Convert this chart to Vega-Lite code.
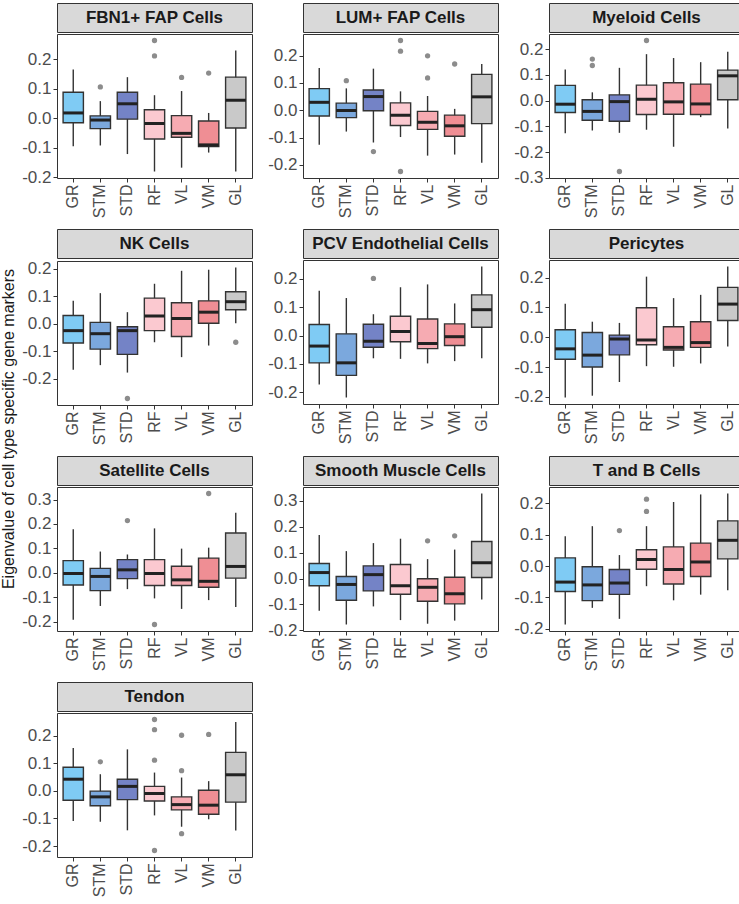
{
"$schema": "https://vega.github.io/schema/vega-lite/v6.json",
"padding": {"left": 0, "top": 2, "right": 0, "bottom": 0},
"background": "white",
"datasets": {
"boxes": [
{"p":"FBN1+ FAP Cells","g":"GR","lo":-0.095,"q1":-0.015,"med":0.018,"q3":0.088,"hi":0.165},
{"p":"FBN1+ FAP Cells","g":"STM","lo":-0.092,"q1":-0.035,"med":-0.006,"q3":0.008,"hi":0.058},
{"p":"FBN1+ FAP Cells","g":"STD","lo":-0.121,"q1":-0.003,"med":0.049,"q3":0.088,"hi":0.139},
{"p":"FBN1+ FAP Cells","g":"RF","lo":-0.180,"q1":-0.070,"med":-0.018,"q3":0.029,"hi":0.078},
{"p":"FBN1+ FAP Cells","g":"VL","lo":-0.167,"q1":-0.064,"med":-0.051,"q3":0.009,"hi":0.092},
{"p":"FBN1+ FAP Cells","g":"VM","lo":-0.116,"q1":-0.096,"med":-0.090,"q3":-0.009,"hi":0.018},
{"p":"FBN1+ FAP Cells","g":"GL","lo":-0.180,"q1":-0.033,"med":0.061,"q3":0.139,"hi":0.229},
{"p":"LUM+ FAP Cells","g":"GR","lo":-0.126,"q1":-0.021,"med":0.029,"q3":0.079,"hi":0.154},
{"p":"LUM+ FAP Cells","g":"STM","lo":-0.078,"q1":-0.027,"med":-0.001,"q3":0.026,"hi":0.080},
{"p":"LUM+ FAP Cells","g":"STD","lo":-0.118,"q1":-0.002,"med":0.050,"q3":0.074,"hi":0.152},
{"p":"LUM+ FAP Cells","g":"RF","lo":-0.098,"q1":-0.056,"med":-0.018,"q3":0.027,"hi":0.069},
{"p":"LUM+ FAP Cells","g":"VL","lo":-0.166,"q1":-0.070,"med":-0.044,"q3":-0.004,"hi":0.052},
{"p":"LUM+ FAP Cells","g":"VM","lo":-0.162,"q1":-0.095,"med":-0.057,"q3":-0.018,"hi":0.005},
{"p":"LUM+ FAP Cells","g":"GL","lo":-0.192,"q1":-0.049,"med":0.049,"q3":0.131,"hi":0.169},
{"p":"Myeloid Cells","g":"GR","lo":-0.127,"q1":-0.046,"med":-0.014,"q3":0.059,"hi":0.121},
{"p":"Myeloid Cells","g":"STM","lo":-0.116,"q1":-0.076,"med":-0.042,"q3":0.003,"hi":0.032},
{"p":"Myeloid Cells","g":"STD","lo":-0.125,"q1":-0.080,"med":-0.004,"q3":0.022,"hi":0.127},
{"p":"Myeloid Cells","g":"RF","lo":-0.113,"q1":-0.054,"med":0.005,"q3":0.060,"hi":0.180},
{"p":"Myeloid Cells","g":"VL","lo":-0.179,"q1":-0.053,"med":-0.005,"q3":0.069,"hi":0.165},
{"p":"Myeloid Cells","g":"VM","lo":-0.064,"q1":-0.054,"med":-0.013,"q3":0.064,"hi":0.149},
{"p":"Myeloid Cells","g":"GL","lo":-0.108,"q1":0.003,"med":0.096,"q3":0.118,"hi":0.189},
{"p":"NK Cells","g":"GR","lo":-0.167,"q1":-0.070,"med":-0.025,"q3":0.030,"hi":0.083},
{"p":"NK Cells","g":"STM","lo":-0.150,"q1":-0.092,"med":-0.036,"q3":0.005,"hi":0.111},
{"p":"NK Cells","g":"STD","lo":-0.177,"q1":-0.111,"med":-0.025,"q3":-0.011,"hi":0.042},
{"p":"NK Cells","g":"RF","lo":-0.067,"q1":-0.025,"med":0.028,"q3":0.093,"hi":0.145},
{"p":"NK Cells","g":"VL","lo":-0.121,"q1":-0.046,"med":0.019,"q3":0.076,"hi":0.192},
{"p":"NK Cells","g":"VM","lo":-0.079,"q1":0.002,"med":0.042,"q3":0.083,"hi":0.196},
{"p":"NK Cells","g":"GL","lo":0.002,"q1":0.051,"med":0.080,"q3":0.116,"hi":0.204},
{"p":"PCV Endothelial Cells","g":"GR","lo":-0.172,"q1":-0.096,"med":-0.037,"q3":0.039,"hi":0.158},
{"p":"PCV Endothelial Cells","g":"STM","lo":-0.218,"q1":-0.140,"med":-0.096,"q3":0.006,"hi":0.132},
{"p":"PCV Endothelial Cells","g":"STD","lo":-0.080,"q1":-0.041,"med":-0.020,"q3":0.040,"hi":0.075},
{"p":"PCV Endothelial Cells","g":"RF","lo":-0.082,"q1":-0.022,"med":0.014,"q3":0.068,"hi":0.170},
{"p":"PCV Endothelial Cells","g":"VL","lo":-0.098,"q1":-0.046,"med":-0.028,"q3":0.058,"hi":0.180},
{"p":"PCV Endothelial Cells","g":"VM","lo":-0.090,"q1":-0.035,"med":-0.004,"q3":0.041,"hi":0.113},
{"p":"PCV Endothelial Cells","g":"GL","lo":-0.080,"q1":0.029,"med":0.091,"q3":0.143,"hi":0.243},
{"p":"Pericytes","g":"GR","lo":-0.202,"q1":-0.074,"med":-0.039,"q3":0.025,"hi":0.112},
{"p":"Pericytes","g":"STM","lo":-0.196,"q1":-0.100,"med":-0.060,"q3":0.016,"hi":0.052},
{"p":"Pericytes","g":"STD","lo":-0.150,"q1":-0.059,"med":-0.006,"q3":0.007,"hi":0.048},
{"p":"Pericytes","g":"RF","lo":-0.097,"q1":-0.025,"med":-0.009,"q3":0.099,"hi":0.203},
{"p":"Pericytes","g":"VL","lo":-0.099,"q1":-0.043,"med":-0.034,"q3":0.035,"hi":0.131},
{"p":"Pericytes","g":"VM","lo":-0.088,"q1":-0.034,"med":-0.018,"q3":0.052,"hi":0.142},
{"p":"Pericytes","g":"GL","lo":-0.031,"q1":0.056,"med":0.111,"q3":0.167,"hi":0.237},
{"p":"Satellite Cells","g":"GR","lo":-0.193,"q1":-0.050,"med":-0.003,"q3":0.050,"hi":0.178},
{"p":"Satellite Cells","g":"STM","lo":-0.136,"q1":-0.073,"med":-0.015,"q3":0.018,"hi":0.087},
{"p":"Satellite Cells","g":"STD","lo":-0.067,"q1":-0.024,"med":0.012,"q3":0.054,"hi":0.075},
{"p":"Satellite Cells","g":"RF","lo":-0.105,"q1":-0.052,"med":-0.003,"q3":0.054,"hi":0.182},
{"p":"Satellite Cells","g":"VL","lo":-0.148,"q1":-0.052,"med":-0.029,"q3":0.027,"hi":0.099},
{"p":"Satellite Cells","g":"VM","lo":-0.112,"q1":-0.059,"med":-0.035,"q3":0.060,"hi":0.103},
{"p":"Satellite Cells","g":"GL","lo":-0.140,"q1":-0.022,"med":0.026,"q3":0.163,"hi":0.246},
{"p":"Smooth Muscle Cells","g":"GR","lo":-0.125,"q1":-0.028,"med":0.023,"q3":0.058,"hi":0.168},
{"p":"Smooth Muscle Cells","g":"STM","lo":-0.178,"q1":-0.084,"med":-0.023,"q3":0.008,"hi":0.106},
{"p":"Smooth Muscle Cells","g":"STD","lo":-0.108,"q1":-0.048,"med":0.015,"q3":0.049,"hi":0.137},
{"p":"Smooth Muscle Cells","g":"RF","lo":-0.161,"q1":-0.061,"med":-0.028,"q3":0.054,"hi":0.154},
{"p":"Smooth Muscle Cells","g":"VL","lo":-0.175,"q1":-0.088,"med":-0.034,"q3":-0.001,"hi":0.075},
{"p":"Smooth Muscle Cells","g":"VM","lo":-0.163,"q1":-0.098,"med":-0.059,"q3":0.005,"hi":0.112},
{"p":"Smooth Muscle Cells","g":"GL","lo":-0.081,"q1":0.004,"med":0.061,"q3":0.143,"hi":0.329},
{"p":"T and B Cells","g":"GR","lo":-0.186,"q1":-0.081,"med":-0.051,"q3":0.026,"hi":0.095},
{"p":"T and B Cells","g":"STM","lo":-0.133,"q1":-0.110,"med":-0.060,"q3":-0.002,"hi":0.127},
{"p":"T and B Cells","g":"STD","lo":-0.168,"q1":-0.090,"med":-0.054,"q3":-0.011,"hi":0.035},
{"p":"T and B Cells","g":"RF","lo":-0.064,"q1":-0.010,"med":0.021,"q3":0.052,"hi":0.127},
{"p":"T and B Cells","g":"VL","lo":-0.109,"q1":-0.057,"med":-0.011,"q3":0.061,"hi":0.204},
{"p":"T and B Cells","g":"VM","lo":-0.091,"q1":-0.033,"med":0.013,"q3":0.073,"hi":0.228},
{"p":"T and B Cells","g":"GL","lo":-0.077,"q1":0.023,"med":0.082,"q3":0.144,"hi":0.231},
{"p":"Tendon","g":"GR","lo":-0.109,"q1":-0.034,"med":0.042,"q3":0.085,"hi":0.155},
{"p":"Tendon","g":"STM","lo":-0.112,"q1":-0.054,"med":-0.022,"q3":-0.001,"hi":0.060},
{"p":"Tendon","g":"STD","lo":-0.143,"q1":-0.032,"med":0.016,"q3":0.042,"hi":0.150},
{"p":"Tendon","g":"RF","lo":-0.089,"q1":-0.037,"med":-0.010,"q3":0.016,"hi":0.066},
{"p":"Tendon","g":"VL","lo":-0.130,"q1":-0.069,"med":-0.050,"q3":-0.022,"hi":0.048},
{"p":"Tendon","g":"VM","lo":-0.103,"q1":-0.085,"med":-0.052,"q3":0.002,"hi":0.035},
{"p":"Tendon","g":"GL","lo":-0.144,"q1":-0.041,"med":0.058,"q3":0.139,"hi":0.249}
],
"out": [
{"p":"FBN1+ FAP Cells","g":"STM","v":0.106},
{"p":"FBN1+ FAP Cells","g":"RF","v":0.263},
{"p":"FBN1+ FAP Cells","g":"RF","v":0.211},
{"p":"FBN1+ FAP Cells","g":"VL","v":0.138},
{"p":"FBN1+ FAP Cells","g":"VM","v":0.153},
{"p":"LUM+ FAP Cells","g":"STM","v":0.108},
{"p":"LUM+ FAP Cells","g":"STD","v":-0.151},
{"p":"LUM+ FAP Cells","g":"RF","v":0.255},
{"p":"LUM+ FAP Cells","g":"RF","v":0.216},
{"p":"LUM+ FAP Cells","g":"RF","v":-0.224},
{"p":"LUM+ FAP Cells","g":"VL","v":0.199},
{"p":"LUM+ FAP Cells","g":"VL","v":0.118},
{"p":"LUM+ FAP Cells","g":"VM","v":0.169},
{"p":"Myeloid Cells","g":"STM","v":0.161},
{"p":"Myeloid Cells","g":"STM","v":0.136},
{"p":"Myeloid Cells","g":"STD","v":-0.275},
{"p":"Myeloid Cells","g":"RF","v":0.233},
{"p":"NK Cells","g":"STD","v":-0.271},
{"p":"NK Cells","g":"GL","v":-0.067},
{"p":"PCV Endothelial Cells","g":"STD","v":0.201},
{"p":"Satellite Cells","g":"STD","v":0.214},
{"p":"Satellite Cells","g":"RF","v":-0.212},
{"p":"Satellite Cells","g":"VM","v":0.325},
{"p":"Smooth Muscle Cells","g":"VL","v":0.146},
{"p":"Smooth Muscle Cells","g":"VM","v":0.165},
{"p":"T and B Cells","g":"STD","v":0.113},
{"p":"T and B Cells","g":"RF","v":0.213},
{"p":"T and B Cells","g":"RF","v":0.174},
{"p":"Tendon","g":"STM","v":0.105},
{"p":"Tendon","g":"RF","v":0.258},
{"p":"Tendon","g":"RF","v":0.221},
{"p":"Tendon","g":"RF","v":0.111},
{"p":"Tendon","g":"RF","v":-0.216},
{"p":"Tendon","g":"VL","v":0.201},
{"p":"Tendon","g":"VL","v":0.073},
{"p":"Tendon","g":"VL","v":-0.155},
{"p":"Tendon","g":"VM","v":0.204}
]
},
"config": {
"font": "Liberation Sans",
"view": {"stroke": "#333333", "strokeWidth": 1},
"tick": {"opacity": 1},
"axis": {"domain": false, "grid": false, "labelFontSize": 16, "labelColor": "#4d4d4d", "tickColor": "#333333", "tickSize": 4, "labelPadding": 2},
"axisX": {"labelAngle": -90},
"axisY": {"tickCount": 6, "labelFontSize": 17, "labelExpr": "replace(format(datum.value, '.1f'), '\u2212', '-')"}
},
"spacing": 4,
"hconcat": [
{"width": 14, "height": 852, "view": {"stroke": null}, "data": {"values": [{"t": "Eigenvalue of cell type specific gene markers"}]}, "mark": {"type": "text", "angle": 270, "fontSize": 16, "color": "#1a1a1a"}, "encoding": {"text": {"field": "t"}}},
{"spacing": 9, "vconcat": [
{"spacing": 14, "hconcat": [
{"spacing": 0, "vconcat": [
{"width": 195, "height": 29, "view": {"fill": "#d9d9d9", "stroke": "#333333"}, "data": {"values": [{"t": "FBN1+ FAP Cells"}]}, "mark": {"type": "text", "fontSize": 17, "fontWeight": "bold", "color": "#1a1a1a"}, "encoding": {"text": {"field": "t"}}},
{"width": 195, "height": 144, "data": {"name": "boxes"}, "transform": [{"filter": "datum.p === 'FBN1+ FAP Cells'"}],
"encoding": {"x": {"field": "g", "type": "nominal", "title": null, "scale": {"domain": ["GR","STM","STD","RF","VL","VM","GL"], "paddingInner": 0.25, "paddingOuter": 0.225}}},
"layer": [
{"mark": {"type": "rule", "stroke": "#333333", "strokeWidth": 1.4}, "encoding": {"y": {"field": "lo", "type": "quantitative", "title": null, "scale": {"zero": false, "nice": false, "padding": 6.5}}, "y2": {"field": "hi"}}},
{"mark": {"type": "bar", "stroke": "#333333", "strokeWidth": 1.4}, "encoding": {"y": {"field": "q1", "type": "quantitative", "title": null}, "y2": {"field": "q3"}, "fill": {"field": "g", "type": "nominal", "legend": null, "scale": {"domain": ["GR","STM","STD","RF","VL","VM","GL"], "range": ["#7fcbf4","#7ba8dd","#7483c6","#fbc9d0","#f6abb2","#ef8e94","#c9c9c9"]}}}},
{"mark": {"type": "tick", "color": "#222222", "opacity": 1, "thickness": 3, "size": 20.3}, "encoding": {"y": {"field": "med", "type": "quantitative", "title": null}}},
{"data": {"name": "out"}, "transform": [{"filter": "datum.p === 'FBN1+ FAP Cells'"}], "mark": {"type": "circle", "color": "#8c8c8c", "size": 28, "opacity": 1}, "encoding": {"y": {"field": "v", "type": "quantitative", "title": null}}}
]}
]},
{"spacing": 0, "vconcat": [
{"width": 195, "height": 29, "view": {"fill": "#d9d9d9", "stroke": "#333333"}, "data": {"values": [{"t": "LUM+ FAP Cells"}]}, "mark": {"type": "text", "fontSize": 17, "fontWeight": "bold", "color": "#1a1a1a"}, "encoding": {"text": {"field": "t"}}},
{"width": 195, "height": 144, "data": {"name": "boxes"}, "transform": [{"filter": "datum.p === 'LUM+ FAP Cells'"}],
"encoding": {"x": {"field": "g", "type": "nominal", "title": null, "scale": {"domain": ["GR","STM","STD","RF","VL","VM","GL"], "paddingInner": 0.25, "paddingOuter": 0.225}}},
"layer": [
{"mark": {"type": "rule", "stroke": "#333333", "strokeWidth": 1.4}, "encoding": {"y": {"field": "lo", "type": "quantitative", "title": null, "scale": {"zero": false, "nice": false, "padding": 6.5}}, "y2": {"field": "hi"}}},
{"mark": {"type": "bar", "stroke": "#333333", "strokeWidth": 1.4}, "encoding": {"y": {"field": "q1", "type": "quantitative", "title": null}, "y2": {"field": "q3"}, "fill": {"field": "g", "type": "nominal", "legend": null, "scale": {"domain": ["GR","STM","STD","RF","VL","VM","GL"], "range": ["#7fcbf4","#7ba8dd","#7483c6","#fbc9d0","#f6abb2","#ef8e94","#c9c9c9"]}}}},
{"mark": {"type": "tick", "color": "#222222", "opacity": 1, "thickness": 3, "size": 20.3}, "encoding": {"y": {"field": "med", "type": "quantitative", "title": null}}},
{"data": {"name": "out"}, "transform": [{"filter": "datum.p === 'LUM+ FAP Cells'"}], "mark": {"type": "circle", "color": "#8c8c8c", "size": 28, "opacity": 1}, "encoding": {"y": {"field": "v", "type": "quantitative", "title": null}}}
]}
]},
{"spacing": 0, "vconcat": [
{"width": 195, "height": 29, "view": {"fill": "#d9d9d9", "stroke": "#333333"}, "data": {"values": [{"t": "Myeloid Cells"}]}, "mark": {"type": "text", "fontSize": 17, "fontWeight": "bold", "color": "#1a1a1a"}, "encoding": {"text": {"field": "t"}}},
{"width": 195, "height": 144, "data": {"name": "boxes"}, "transform": [{"filter": "datum.p === 'Myeloid Cells'"}],
"encoding": {"x": {"field": "g", "type": "nominal", "title": null, "scale": {"domain": ["GR","STM","STD","RF","VL","VM","GL"], "paddingInner": 0.25, "paddingOuter": 0.225}}},
"layer": [
{"mark": {"type": "rule", "stroke": "#333333", "strokeWidth": 1.4}, "encoding": {"y": {"field": "lo", "type": "quantitative", "title": null, "scale": {"zero": false, "nice": false, "padding": 6.5}}, "y2": {"field": "hi"}}},
{"mark": {"type": "bar", "stroke": "#333333", "strokeWidth": 1.4}, "encoding": {"y": {"field": "q1", "type": "quantitative", "title": null}, "y2": {"field": "q3"}, "fill": {"field": "g", "type": "nominal", "legend": null, "scale": {"domain": ["GR","STM","STD","RF","VL","VM","GL"], "range": ["#7fcbf4","#7ba8dd","#7483c6","#fbc9d0","#f6abb2","#ef8e94","#c9c9c9"]}}}},
{"mark": {"type": "tick", "color": "#222222", "opacity": 1, "thickness": 3, "size": 20.3}, "encoding": {"y": {"field": "med", "type": "quantitative", "title": null}}},
{"data": {"name": "out"}, "transform": [{"filter": "datum.p === 'Myeloid Cells'"}], "mark": {"type": "circle", "color": "#8c8c8c", "size": 28, "opacity": 1}, "encoding": {"y": {"field": "v", "type": "quantitative", "title": null}}}
]}
]}
]},
{"spacing": 14, "hconcat": [
{"spacing": 0, "vconcat": [
{"width": 195, "height": 29, "view": {"fill": "#d9d9d9", "stroke": "#333333"}, "data": {"values": [{"t": "NK Cells"}]}, "mark": {"type": "text", "fontSize": 17, "fontWeight": "bold", "color": "#1a1a1a"}, "encoding": {"text": {"field": "t"}}},
{"width": 195, "height": 144, "data": {"name": "boxes"}, "transform": [{"filter": "datum.p === 'NK Cells'"}],
"encoding": {"x": {"field": "g", "type": "nominal", "title": null, "scale": {"domain": ["GR","STM","STD","RF","VL","VM","GL"], "paddingInner": 0.25, "paddingOuter": 0.225}}},
"layer": [
{"mark": {"type": "rule", "stroke": "#333333", "strokeWidth": 1.4}, "encoding": {"y": {"field": "lo", "type": "quantitative", "title": null, "scale": {"zero": false, "nice": false, "padding": 6.5}}, "y2": {"field": "hi"}}},
{"mark": {"type": "bar", "stroke": "#333333", "strokeWidth": 1.4}, "encoding": {"y": {"field": "q1", "type": "quantitative", "title": null}, "y2": {"field": "q3"}, "fill": {"field": "g", "type": "nominal", "legend": null, "scale": {"domain": ["GR","STM","STD","RF","VL","VM","GL"], "range": ["#7fcbf4","#7ba8dd","#7483c6","#fbc9d0","#f6abb2","#ef8e94","#c9c9c9"]}}}},
{"mark": {"type": "tick", "color": "#222222", "opacity": 1, "thickness": 3, "size": 20.3}, "encoding": {"y": {"field": "med", "type": "quantitative", "title": null}}},
{"data": {"name": "out"}, "transform": [{"filter": "datum.p === 'NK Cells'"}], "mark": {"type": "circle", "color": "#8c8c8c", "size": 28, "opacity": 1}, "encoding": {"y": {"field": "v", "type": "quantitative", "title": null}}}
]}
]},
{"spacing": 0, "vconcat": [
{"width": 195, "height": 29, "view": {"fill": "#d9d9d9", "stroke": "#333333"}, "data": {"values": [{"t": "PCV Endothelial Cells"}]}, "mark": {"type": "text", "fontSize": 17, "fontWeight": "bold", "color": "#1a1a1a"}, "encoding": {"text": {"field": "t"}}},
{"width": 195, "height": 144, "data": {"name": "boxes"}, "transform": [{"filter": "datum.p === 'PCV Endothelial Cells'"}],
"encoding": {"x": {"field": "g", "type": "nominal", "title": null, "scale": {"domain": ["GR","STM","STD","RF","VL","VM","GL"], "paddingInner": 0.25, "paddingOuter": 0.225}}},
"layer": [
{"mark": {"type": "rule", "stroke": "#333333", "strokeWidth": 1.4}, "encoding": {"y": {"field": "lo", "type": "quantitative", "title": null, "scale": {"zero": false, "nice": false, "padding": 6.5}}, "y2": {"field": "hi"}}},
{"mark": {"type": "bar", "stroke": "#333333", "strokeWidth": 1.4}, "encoding": {"y": {"field": "q1", "type": "quantitative", "title": null}, "y2": {"field": "q3"}, "fill": {"field": "g", "type": "nominal", "legend": null, "scale": {"domain": ["GR","STM","STD","RF","VL","VM","GL"], "range": ["#7fcbf4","#7ba8dd","#7483c6","#fbc9d0","#f6abb2","#ef8e94","#c9c9c9"]}}}},
{"mark": {"type": "tick", "color": "#222222", "opacity": 1, "thickness": 3, "size": 20.3}, "encoding": {"y": {"field": "med", "type": "quantitative", "title": null}}},
{"data": {"name": "out"}, "transform": [{"filter": "datum.p === 'PCV Endothelial Cells'"}], "mark": {"type": "circle", "color": "#8c8c8c", "size": 28, "opacity": 1}, "encoding": {"y": {"field": "v", "type": "quantitative", "title": null}}}
]}
]},
{"spacing": 0, "vconcat": [
{"width": 195, "height": 29, "view": {"fill": "#d9d9d9", "stroke": "#333333"}, "data": {"values": [{"t": "Pericytes"}]}, "mark": {"type": "text", "fontSize": 17, "fontWeight": "bold", "color": "#1a1a1a"}, "encoding": {"text": {"field": "t"}}},
{"width": 195, "height": 144, "data": {"name": "boxes"}, "transform": [{"filter": "datum.p === 'Pericytes'"}],
"encoding": {"x": {"field": "g", "type": "nominal", "title": null, "scale": {"domain": ["GR","STM","STD","RF","VL","VM","GL"], "paddingInner": 0.25, "paddingOuter": 0.225}}},
"layer": [
{"mark": {"type": "rule", "stroke": "#333333", "strokeWidth": 1.4}, "encoding": {"y": {"field": "lo", "type": "quantitative", "title": null, "scale": {"zero": false, "nice": false, "padding": 6.5}}, "y2": {"field": "hi"}}},
{"mark": {"type": "bar", "stroke": "#333333", "strokeWidth": 1.4}, "encoding": {"y": {"field": "q1", "type": "quantitative", "title": null}, "y2": {"field": "q3"}, "fill": {"field": "g", "type": "nominal", "legend": null, "scale": {"domain": ["GR","STM","STD","RF","VL","VM","GL"], "range": ["#7fcbf4","#7ba8dd","#7483c6","#fbc9d0","#f6abb2","#ef8e94","#c9c9c9"]}}}},
{"mark": {"type": "tick", "color": "#222222", "opacity": 1, "thickness": 3, "size": 20.3}, "encoding": {"y": {"field": "med", "type": "quantitative", "title": null}}},
{"data": {"name": "out"}, "transform": [{"filter": "datum.p === 'Pericytes'"}], "mark": {"type": "circle", "color": "#8c8c8c", "size": 28, "opacity": 1}, "encoding": {"y": {"field": "v", "type": "quantitative", "title": null}}}
]}
]}
]},
{"spacing": 14, "hconcat": [
{"spacing": 0, "vconcat": [
{"width": 195, "height": 29, "view": {"fill": "#d9d9d9", "stroke": "#333333"}, "data": {"values": [{"t": "Satellite Cells"}]}, "mark": {"type": "text", "fontSize": 17, "fontWeight": "bold", "color": "#1a1a1a"}, "encoding": {"text": {"field": "t"}}},
{"width": 195, "height": 144, "data": {"name": "boxes"}, "transform": [{"filter": "datum.p === 'Satellite Cells'"}],
"encoding": {"x": {"field": "g", "type": "nominal", "title": null, "scale": {"domain": ["GR","STM","STD","RF","VL","VM","GL"], "paddingInner": 0.25, "paddingOuter": 0.225}}},
"layer": [
{"mark": {"type": "rule", "stroke": "#333333", "strokeWidth": 1.4}, "encoding": {"y": {"field": "lo", "type": "quantitative", "title": null, "scale": {"zero": false, "nice": false, "padding": 6.5}}, "y2": {"field": "hi"}}},
{"mark": {"type": "bar", "stroke": "#333333", "strokeWidth": 1.4}, "encoding": {"y": {"field": "q1", "type": "quantitative", "title": null}, "y2": {"field": "q3"}, "fill": {"field": "g", "type": "nominal", "legend": null, "scale": {"domain": ["GR","STM","STD","RF","VL","VM","GL"], "range": ["#7fcbf4","#7ba8dd","#7483c6","#fbc9d0","#f6abb2","#ef8e94","#c9c9c9"]}}}},
{"mark": {"type": "tick", "color": "#222222", "opacity": 1, "thickness": 3, "size": 20.3}, "encoding": {"y": {"field": "med", "type": "quantitative", "title": null}}},
{"data": {"name": "out"}, "transform": [{"filter": "datum.p === 'Satellite Cells'"}], "mark": {"type": "circle", "color": "#8c8c8c", "size": 28, "opacity": 1}, "encoding": {"y": {"field": "v", "type": "quantitative", "title": null}}}
]}
]},
{"spacing": 0, "vconcat": [
{"width": 195, "height": 29, "view": {"fill": "#d9d9d9", "stroke": "#333333"}, "data": {"values": [{"t": "Smooth Muscle Cells"}]}, "mark": {"type": "text", "fontSize": 17, "fontWeight": "bold", "color": "#1a1a1a"}, "encoding": {"text": {"field": "t"}}},
{"width": 195, "height": 144, "data": {"name": "boxes"}, "transform": [{"filter": "datum.p === 'Smooth Muscle Cells'"}],
"encoding": {"x": {"field": "g", "type": "nominal", "title": null, "scale": {"domain": ["GR","STM","STD","RF","VL","VM","GL"], "paddingInner": 0.25, "paddingOuter": 0.225}}},
"layer": [
{"mark": {"type": "rule", "stroke": "#333333", "strokeWidth": 1.4}, "encoding": {"y": {"field": "lo", "type": "quantitative", "title": null, "scale": {"zero": false, "nice": false, "padding": 6.5}}, "y2": {"field": "hi"}}},
{"mark": {"type": "bar", "stroke": "#333333", "strokeWidth": 1.4}, "encoding": {"y": {"field": "q1", "type": "quantitative", "title": null}, "y2": {"field": "q3"}, "fill": {"field": "g", "type": "nominal", "legend": null, "scale": {"domain": ["GR","STM","STD","RF","VL","VM","GL"], "range": ["#7fcbf4","#7ba8dd","#7483c6","#fbc9d0","#f6abb2","#ef8e94","#c9c9c9"]}}}},
{"mark": {"type": "tick", "color": "#222222", "opacity": 1, "thickness": 3, "size": 20.3}, "encoding": {"y": {"field": "med", "type": "quantitative", "title": null}}},
{"data": {"name": "out"}, "transform": [{"filter": "datum.p === 'Smooth Muscle Cells'"}], "mark": {"type": "circle", "color": "#8c8c8c", "size": 28, "opacity": 1}, "encoding": {"y": {"field": "v", "type": "quantitative", "title": null}}}
]}
]},
{"spacing": 0, "vconcat": [
{"width": 195, "height": 29, "view": {"fill": "#d9d9d9", "stroke": "#333333"}, "data": {"values": [{"t": "T and B Cells"}]}, "mark": {"type": "text", "fontSize": 17, "fontWeight": "bold", "color": "#1a1a1a"}, "encoding": {"text": {"field": "t"}}},
{"width": 195, "height": 144, "data": {"name": "boxes"}, "transform": [{"filter": "datum.p === 'T and B Cells'"}],
"encoding": {"x": {"field": "g", "type": "nominal", "title": null, "scale": {"domain": ["GR","STM","STD","RF","VL","VM","GL"], "paddingInner": 0.25, "paddingOuter": 0.225}}},
"layer": [
{"mark": {"type": "rule", "stroke": "#333333", "strokeWidth": 1.4}, "encoding": {"y": {"field": "lo", "type": "quantitative", "title": null, "scale": {"zero": false, "nice": false, "padding": 6.5}}, "y2": {"field": "hi"}}},
{"mark": {"type": "bar", "stroke": "#333333", "strokeWidth": 1.4}, "encoding": {"y": {"field": "q1", "type": "quantitative", "title": null}, "y2": {"field": "q3"}, "fill": {"field": "g", "type": "nominal", "legend": null, "scale": {"domain": ["GR","STM","STD","RF","VL","VM","GL"], "range": ["#7fcbf4","#7ba8dd","#7483c6","#fbc9d0","#f6abb2","#ef8e94","#c9c9c9"]}}}},
{"mark": {"type": "tick", "color": "#222222", "opacity": 1, "thickness": 3, "size": 20.3}, "encoding": {"y": {"field": "med", "type": "quantitative", "title": null}}},
{"data": {"name": "out"}, "transform": [{"filter": "datum.p === 'T and B Cells'"}], "mark": {"type": "circle", "color": "#8c8c8c", "size": 28, "opacity": 1}, "encoding": {"y": {"field": "v", "type": "quantitative", "title": null}}}
]}
]}
]},
{"spacing": 14, "hconcat": [
{"spacing": 0, "vconcat": [
{"width": 195, "height": 29, "view": {"fill": "#d9d9d9", "stroke": "#333333"}, "data": {"values": [{"t": "Tendon"}]}, "mark": {"type": "text", "fontSize": 17, "fontWeight": "bold", "color": "#1a1a1a"}, "encoding": {"text": {"field": "t"}}},
{"width": 195, "height": 144, "data": {"name": "boxes"}, "transform": [{"filter": "datum.p === 'Tendon'"}],
"encoding": {"x": {"field": "g", "type": "nominal", "title": null, "scale": {"domain": ["GR","STM","STD","RF","VL","VM","GL"], "paddingInner": 0.25, "paddingOuter": 0.225}}},
"layer": [
{"mark": {"type": "rule", "stroke": "#333333", "strokeWidth": 1.4}, "encoding": {"y": {"field": "lo", "type": "quantitative", "title": null, "scale": {"zero": false, "nice": false, "padding": 6.5}}, "y2": {"field": "hi"}}},
{"mark": {"type": "bar", "stroke": "#333333", "strokeWidth": 1.4}, "encoding": {"y": {"field": "q1", "type": "quantitative", "title": null}, "y2": {"field": "q3"}, "fill": {"field": "g", "type": "nominal", "legend": null, "scale": {"domain": ["GR","STM","STD","RF","VL","VM","GL"], "range": ["#7fcbf4","#7ba8dd","#7483c6","#fbc9d0","#f6abb2","#ef8e94","#c9c9c9"]}}}},
{"mark": {"type": "tick", "color": "#222222", "opacity": 1, "thickness": 3, "size": 20.3}, "encoding": {"y": {"field": "med", "type": "quantitative", "title": null}}},
{"data": {"name": "out"}, "transform": [{"filter": "datum.p === 'Tendon'"}], "mark": {"type": "circle", "color": "#8c8c8c", "size": 28, "opacity": 1}, "encoding": {"y": {"field": "v", "type": "quantitative", "title": null}}}
]}
]}
]}
]}
]
}
